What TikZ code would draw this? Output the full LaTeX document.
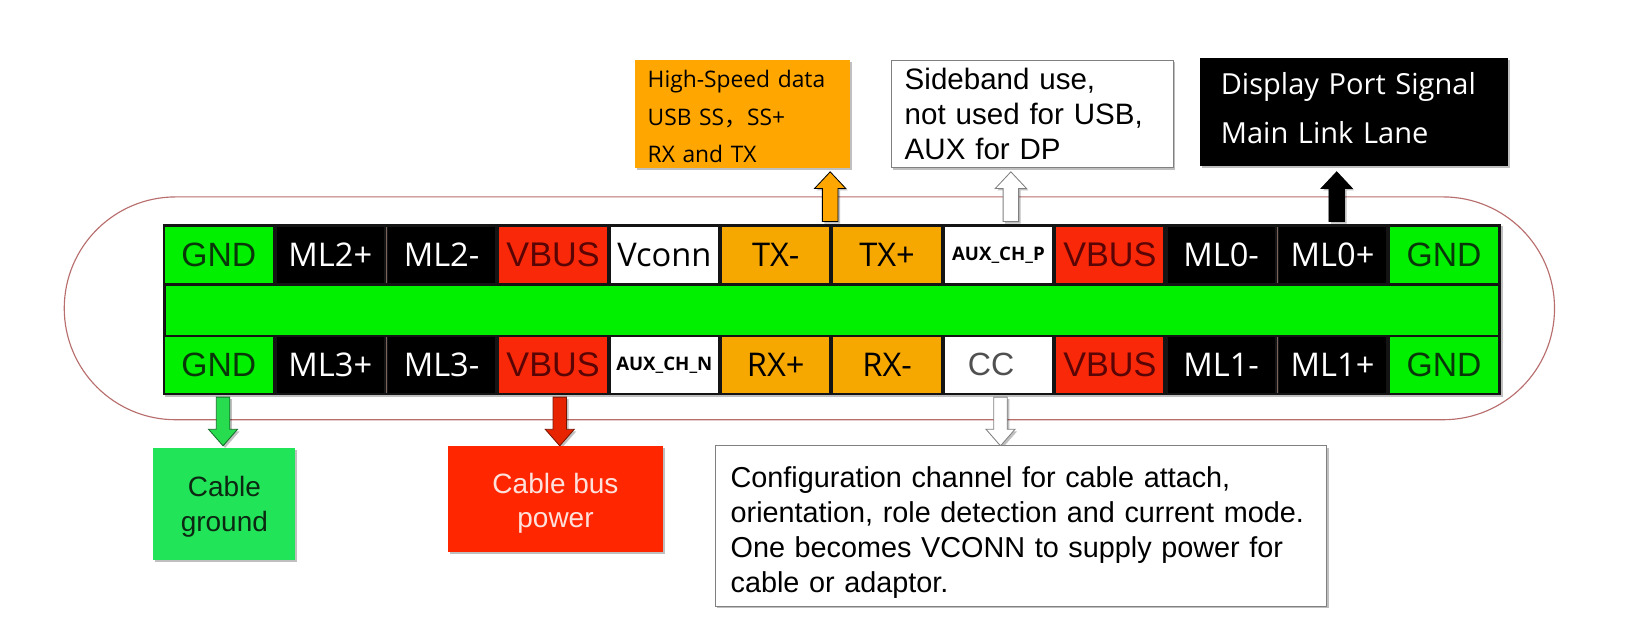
\documentclass[tikz,border=0pt]{standalone}
\usepackage{fontspec}
\setmainfont{Liberation Sans}
\newfontfamily\seg{Open Sans}
\newfontfamily\cjk{Noto Sans CJK SC}
\usetikzlibrary{shadows}
\definecolor{cgreen}{RGB}{0,240,0}
\definecolor{gndtxt}{RGB}{10,55,10}
\definecolor{cred}{RGB}{248,40,8}
\definecolor{vbustxt}{RGB}{90,5,5}
\definecolor{corange}{RGB}{246,168,0}
\definecolor{borange}{RGB}{255,166,0}
\definecolor{bgreen}{RGB}{34,228,88}
\definecolor{bgreentxt}{RGB}{12,40,18}
\definecolor{bred}{RGB}{255,38,0}
\definecolor{bredtxt}{RGB}{255,225,220}
\definecolor{outl}{RGB}{185,110,110}
\definecolor{cctxt}{RGB}{80,80,80}
\definecolor{agreen}{RGB}{40,220,80}
\definecolor{ared}{RGB}{232,36,0}
\begin{document}
\begin{tikzpicture}[x=1pt,y=-1pt,
  cell/.style={minimum width=103.5pt, minimum height=54pt, inner sep=0pt, draw=none},
  gndc/.style={cell, fill=cgreen, text=gndtxt, font=\fontsize{32.5}{32.5}\selectfont},
  mlc/.style={cell, fill=black, text=white, font=\seg\fontsize{31.5}{31.5}\selectfont},
  vbusc/.style={cell, fill=cred, text=vbustxt, font=\fontsize{33}{33}\selectfont},
  whc/.style={cell, fill=white, text=black, font=\seg\fontsize{31.5}{31.5}\selectfont},
  txc/.style={cell, fill=corange, text=black, font=\seg\fontsize{31.5}{31.5}\selectfont},
  auxc/.style={cell, fill=white, text=black, font=\seg\bfseries\fontsize{18}{18}\selectfont},
  ccc/.style={cell, fill=white, text=cctxt, font=\fontsize{31}{31}\selectfont},
  shad/.style={drop shadow={shadow xshift=2pt, shadow yshift=-2pt, opacity=0.25, fill=black}},
  sepline/.style={draw={rgb,255:red,120;green,100;blue,90}, line width=0.7pt},
  box/.style={inner sep=0pt, shad},
  txt/.style={inner sep=0pt},
  blk/.style={line width=0.8pt, line join=miter, shad}
]
\fill[white] (0,0) rectangle (1568,606);
\useasboundingbox (0,0) rectangle (1568,606);

% cable outline
\draw[outl, line width=1.1pt, rounded corners=107.5pt] (62,190) rectangle (1500,405);

% connector body
\node[fill={rgb,255:red,20;green,20;blue,20}, minimum width=1291pt, minimum height=165pt, inner sep=0pt, shad] (body) at (802.5,299) {};
\node[fill=cgreen, minimum width=1285pt, minimum height=47pt, inner sep=0pt] (bar) at (802.5,299.5) {};

% top row
\node[gndc]  (t1)  at (211.2,246) {GND};
\node[mlc]   (t2)  at (318.7,246) {ML2+};
\node[mlc]   (t3)  at (426.1,246) {ML2-};
\node[vbusc] (t4)  at (533.6,246) {VBUS};
\node[whc]   (t5)  at (641.0,246) {Vconn};
\node[txc]   (t6)  at (748.5,246) {TX-};
\node[txc]   (t7)  at (856.0,246) {TX+};
\node[auxc]  (t8)  at (963.4,246) {AUX\_CH\_P};
\node[vbusc] (t9)  at (1070.9,246) {VBUS};
\node[mlc]   (t10) at (1178.3,246) {ML0-};
\node[mlc]   (t11) at (1285.8,246) {ML0+};
\node[gndc]  (t12) at (1393.3,246) {GND};

% bottom row
\node[gndc]  (b1)  at (211.2,352) {GND};
\node[mlc]   (b2)  at (318.7,352) {ML3+};
\node[mlc]   (b3)  at (426.1,352) {ML3-};
\node[vbusc] (b4)  at (533.6,352) {VBUS};
\node[auxc]  (b5)  at (641.0,352) {AUX\_CH\_N};
\node[txc]   (b6)  at (748.5,352) {RX+};
\node[txc]   (b7)  at (856.0,352) {RX-};
\node[ccc]   (b8)  at (963.4,352) {\kern-7pt CC\kern7pt};
\node[vbusc] (b9)  at (1070.9,352) {VBUS};
\node[mlc]   (b10) at (1178.3,352) {ML1-};
\node[mlc]   (b11) at (1285.8,352) {ML1+};
\node[gndc]  (b12) at (1393.3,352) {GND};

% thin separators between adjacent black cells
\draw[sepline] ([xshift=2pt]t2.north east) -- ([xshift=2pt]t2.south east);
\draw[sepline] ([xshift=2pt]t10.north east) -- ([xshift=2pt]t10.south east);
\draw[sepline] ([xshift=2pt]b2.north east) -- ([xshift=2pt]b2.south east);
\draw[sepline] ([xshift=2pt]b10.north east) -- ([xshift=2pt]b10.south east);

% arrow anchor coordinates
\coordinate (ao) at ([xshift=-3pt,yshift=5pt]t7.north west);
\coordinate (aw) at ([xshift=12pt,yshift=5pt]t8.north);
\coordinate (ab) at ([xshift=4pt,yshift=5pt]t11.north);
\coordinate (ag) at ([xshift=4pt,yshift=-4pt]b1.south);
\coordinate (ar) at ([xshift=6.5pt,yshift=-4pt]b4.south);
\coordinate (ac) at ([xshift=2pt,yshift=-4pt]b8.south);

% up arrows
\draw[blk, fill=borange, draw=black] (ao) ++(-7.5,0) -- ++(0,-32) -- ++(-7.5,0) -- ++(15,-16) -- ++(15,16) -- ++(-7.5,0) -- ++(0,32) -- cycle;
\draw[blk, fill=white, draw=gray] (aw) ++(-7.5,0) -- ++(0,-32) -- ++(-7.5,0) -- ++(15,-16) -- ++(15,16) -- ++(-7.5,0) -- ++(0,32) -- cycle;
\draw[blk, fill=black, draw=black] (ab) ++(-7.5,0) -- ++(0,-32) -- ++(-7.5,0) -- ++(15,-16) -- ++(15,16) -- ++(-7.5,0) -- ++(0,32) -- cycle;

% down arrows
\draw[blk, fill=agreen, draw={rgb,255:red,20;green,110;blue,40}] (ag) ++(-6.5,0) -- ++(0,31) -- ++(-7.5,0) -- ++(14,16) -- ++(14,-16) -- ++(-7.5,0) -- ++(0,-31) -- cycle;
\draw[blk, fill=ared, draw={rgb,255:red,120;green,20;blue,0}] (ar) ++(-6.5,0) -- ++(0,31) -- ++(-7.5,0) -- ++(14,16) -- ++(14,-16) -- ++(-7.5,0) -- ++(0,-31) -- cycle;
\draw[blk, fill=white, draw=gray] (ac) ++(-6.5,0) -- ++(0,31) -- ++(-7.5,0) -- ++(14,16) -- ++(14,-16) -- ++(-7.5,0) -- ++(0,-31) -- cycle;

% top label boxes
\node[box, fill=borange, minimum width=207pt, minimum height=104pt] (hs) at (716.5,110) {};
\node[txt, text width=183pt, align=left, font=\seg\fontsize{22}{36.5}\selectfont] (hst) at ([yshift=-2.5pt]hs.center) {High-Speed data\\USB SS{\cjk ，}SS+\\RX and TX};

\node[box, fill=white, draw=gray, line width=0.8pt, minimum width=272pt, minimum height=104pt] (sb) at (996,110) {};
\node[txt, text width=246pt, align=left, font=\fontsize{28.5}{34}\selectfont] (sbt) at (sb.center) {Sideband use,\\not used for USB,\\AUX for DP};

\node[box, fill=black, minimum width=297pt, minimum height=104pt] (dp) at (1306.5,108) {};
\node[txt, text=white, text width=257pt, align=left, font=\seg\fontsize{28}{47}\selectfont] (dpt) at ([yshift=4pt]dp.center) {Display Port Signal\\Main Link Lane};

% bottom label boxes
\node[box, fill=bgreen, minimum width=137pt, minimum height=108pt] (cg) at (216.5,486) {};
\node[txt, text=bgreentxt, align=center, font=\fontsize{27}{33}\selectfont] (cgt) at ([yshift=-3pt]cg.center) {Cable\\ground};

\node[box, fill=bred, minimum width=208pt, minimum height=103pt] (cb) at (536,481.5) {};
\node[txt, text=bredtxt, align=center, font=\fontsize{27}{33}\selectfont] (cbt) at ([yshift=-4pt]cb.center) {Cable bus\\power};

\node[box, fill=white, draw=gray, line width=0.8pt, minimum width=590pt, minimum height=155pt] (cfg) at (985,507.5) {};
\node[txt, text width=560pt, align=left, font=\fontsize{27.8}{33.7}\selectfont] (cfgt) at ([yshift=-6pt]cfg.center) {Configuration channel for cable attach,\\orientation, role detection and current mode.\\One becomes VCONN to supply power for\\cable or adaptor.};
\end{tikzpicture}
\end{document}
